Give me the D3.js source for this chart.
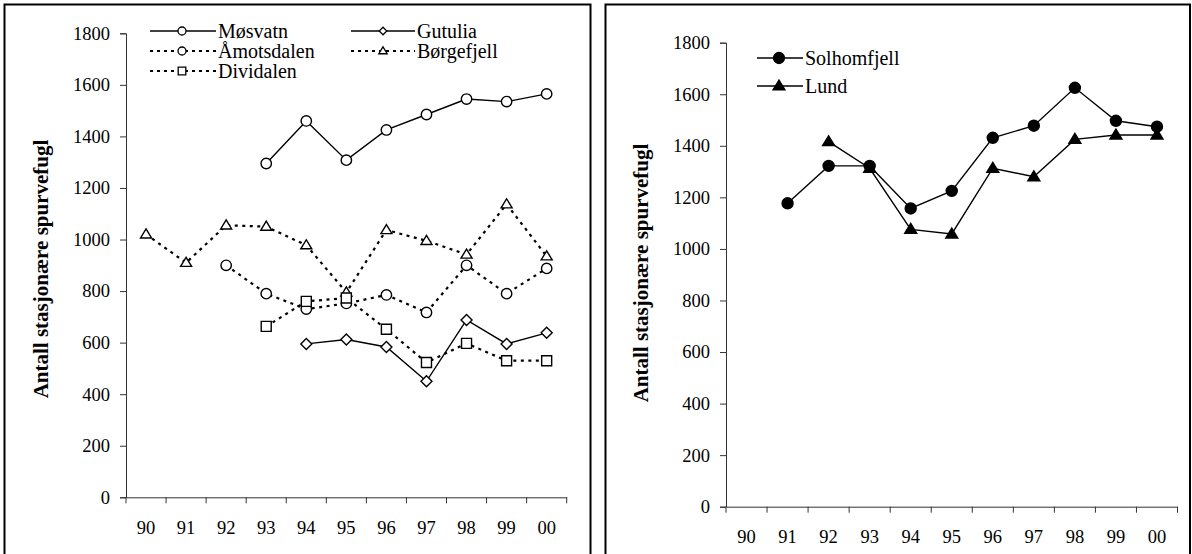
<!DOCTYPE html>
<html>
<head>
<meta charset="utf-8">
<script src="https://cdn.jsdelivr.net/npm/d3@7"></script>
<style>
  html, body { margin: 0; padding: 0; background: #fff; }
  svg { display: block; }
  svg text { font-family: "Liberation Serif", "Times New Roman", "DejaVu Serif", serif !important; fill: #000; }
</style>
</head>
<body>
<svg id="chart" width="1192" height="554"></svg>
<script>
// ---- data ----
const years = ["90","91","92","93","94","95","96","97","98","99","00"];
const yTicks = [0,200,400,600,800,1000,1200,1400,1600,1800];
const yTitle = "Antall stasjonære spurvefugl";

const mosvatn    = [null,null,null,1295,1460,1308,1425,1485,1545,1535,1565];
const gutulia    = [null,null,null,null,595,612,583,450,688,595,638];
const amotsdalen = [null,null,900,790,730,752,785,717,900,790,888];
const borgefjell = [1020,910,1055,1050,978,795,1037,995,942,1137,935];
const dividalen  = [null,null,null,663,760,773,652,523,597,530,530];

const solhomfjell = [null,1177,1322,1322,1157,1225,1431,1478,1625,1497,1474];
const lund        = [null,null,1416,1313,1076,1058,1313,1280,1425,1442,1442];

const leftNames  = ["Møsvatn","Gutulia","Åmotsdalen","Børgefjell","Dividalen"];
const rightNames = ["Solhomfjell","Lund"];

// ---- custom symbols ----
const symDiamond = { draw(ctx, s) { const r = s; ctx.moveTo(0,-r); ctx.lineTo(r,0); ctx.lineTo(0,r); ctx.lineTo(-r,0); ctx.closePath(); } };
const symSquare  = { draw(ctx, s) { const r = s; ctx.moveTo(-r,-r); ctx.lineTo(r,-r); ctx.lineTo(r,r); ctx.lineTo(-r,r); ctx.closePath(); } };
const symTri     = { draw(ctx, s) { const w = s, h = s*1.65; ctx.moveTo(0,-h*0.6); ctx.lineTo(w,h*0.4); ctx.lineTo(-w,h*0.4); ctx.closePath(); } };
const symCircle  = { draw(ctx, s) { ctx.moveTo(s,0); ctx.arc(0,0,s,0,2*Math.PI); } };

const FONT = "'Liberation Serif', 'Times New Roman', serif";
const svg = d3.select("#chart");

// panel borders
svg.append("rect").attr("x",4.5).attr("y",4.5).attr("width",586).attr("height",560)
  .attr("fill","none").attr("stroke","#000").attr("stroke-width",2);
svg.append("rect").attr("x",605.5).attr("y",4.5).attr("width",584.5).attr("height",560)
  .attr("fill","none").attr("stroke","#000").attr("stroke-width",2);

function drawPanel(cfg) {
  const x = d3.scaleBand().domain(years).range([cfg.x0, cfg.x1]);
  const y = d3.scaleLinear().domain([0,1800]).range([cfg.y0, cfg.y1]);
  const g = svg.append("g");

  // y axis
  const ya = g.append("g").attr("transform",`translate(${cfg.x0},0)`)
    .call(d3.axisLeft(y).tickValues(yTicks).tickSize(6).tickPadding(10).tickFormat(d3.format("d")));
  ya.attr("font-family", FONT).attr("font-size", 18.5);
  ya.selectAll("line,path").attr("stroke","#333");

  // x axis (labels centred in bands, ticks at band edges)
  const xa = g.append("g").attr("transform",`translate(0,${cfg.y0})`)
    .call(d3.axisBottom(x).tickSize(0).tickPadding(23.5));
  xa.attr("font-family", FONT).attr("font-size", 18.5);
  xa.select(".domain").attr("stroke","#333");
  const edges = years.map(d => x(d)).concat([x.range()[1]]);
  g.append("g").selectAll("line").data(edges).join("line")
    .attr("x1",d=>d).attr("x2",d=>d).attr("y1",cfg.y0).attr("y2",cfg.y0+6)
    .attr("stroke","#333");

  // title
  g.append("text").attr("transform",`translate(${cfg.tx},${cfg.ty}) rotate(-90)`)
    .attr("text-anchor","middle").attr("font-weight","bold").attr("font-size","21px")
    .attr("font-family", FONT)
    .text(yTitle);

  const cx = d => x(d) + x.bandwidth()/2;

  cfg.series.forEach(s => {
    const pts = years.map((yr,i) => ({yr, v: s.values[i]}));
    const line = d3.line().defined(d => d.v != null).x(d => cx(d.yr)).y(d => y(d.v));
    g.append("path").datum(pts).attr("d", line).attr("fill","none")
      .attr("stroke","#000").attr("stroke-width", s.dash ? 2.2 : 1.4)
      .attr("stroke-dasharray", s.dash ? "3,4.5" : null);
  });
  cfg.series.forEach(s => {
    const pts = years.map((yr,i) => ({yr, v: s.values[i]})).filter(d => d.v != null);
    g.append("g").selectAll("path").data(pts).join("path")
      .attr("transform", d => `translate(${cx(d.yr)},${y(d.v)})`)
      .attr("d", d3.symbol().type(s.sym).size(s.size))
      .attr("fill", s.fill).attr("stroke","#000").attr("stroke-width",1.4);
  });

  // legend
  cfg.legend.forEach((l, i) => {
    const s = cfg.series[i];
    const lg = g.append("g");
    lg.append("line").attr("x1",l.x0).attr("x2",l.x1).attr("y1",l.y).attr("y2",l.y)
      .attr("stroke","#000").attr("stroke-width", s.dash ? 2.2 : 1.4)
      .attr("stroke-dasharray", s.dash ? "3,4" : null);
    lg.append("path").attr("transform",`translate(${l.m},${l.y})`)
      .attr("d", d3.symbol().type(s.sym).size(l.size))
      .attr("fill", s.fill).attr("stroke","#000").attr("stroke-width",1.3);
    lg.append("text").attr("x", l.x1 + 2).attr("y", l.y + 7)
      .attr("font-family", FONT).attr("font-size","20px").text(s.name);
  });
}

drawPanel({
  x0: 126, x1: 566.7, y0: 497.3, y1: 33.3, tx: 48, ty: 269,
  series: [
    {name: leftNames[0], values: mosvatn,    sym: symCircle,  size: 5.2, fill: "#fff", dash: false},
    {name: leftNames[1], values: gutulia,    sym: symDiamond, size: 5.5, fill: "#fff", dash: false},
    {name: leftNames[2], values: amotsdalen, sym: symCircle,  size: 5.2, fill: "#fff", dash: true},
    {name: leftNames[3], values: borgefjell, sym: symTri,     size: 5.5, fill: "#fff", dash: true},
    {name: leftNames[4], values: dividalen,  sym: symSquare,  size: 5,   fill: "#fff", dash: true}
  ],
  legend: [
    {x0:150, x1:216, m:182, y:31, size:4},
    {x0:351, x1:415, m:383, y:31, size:3.8},
    {x0:150, x1:216, m:182, y:51, size:4},
    {x0:351, x1:415, m:383, y:51, size:4.2},
    {x0:150, x1:216, m:182, y:71, size:3.8}
  ]
});

drawPanel({
  x0: 726, x1: 1177.5, y0: 506.7, y1: 42.7, tx: 648, ty: 273,
  series: [
    {name: rightNames[0], values: solhomfjell, sym: symCircle, size: 5.5, fill: "#000", dash: false},
    {name: rightNames[1], values: lund,        sym: symTri,    size: 6,   fill: "#000", dash: false}
  ],
  legend: [
    {x0:757, x1:803, m:779, y:58, size:5.5},
    {x0:757, x1:803, m:779, y:86, size:6}
  ]
});
</script>
</body>
</html>
